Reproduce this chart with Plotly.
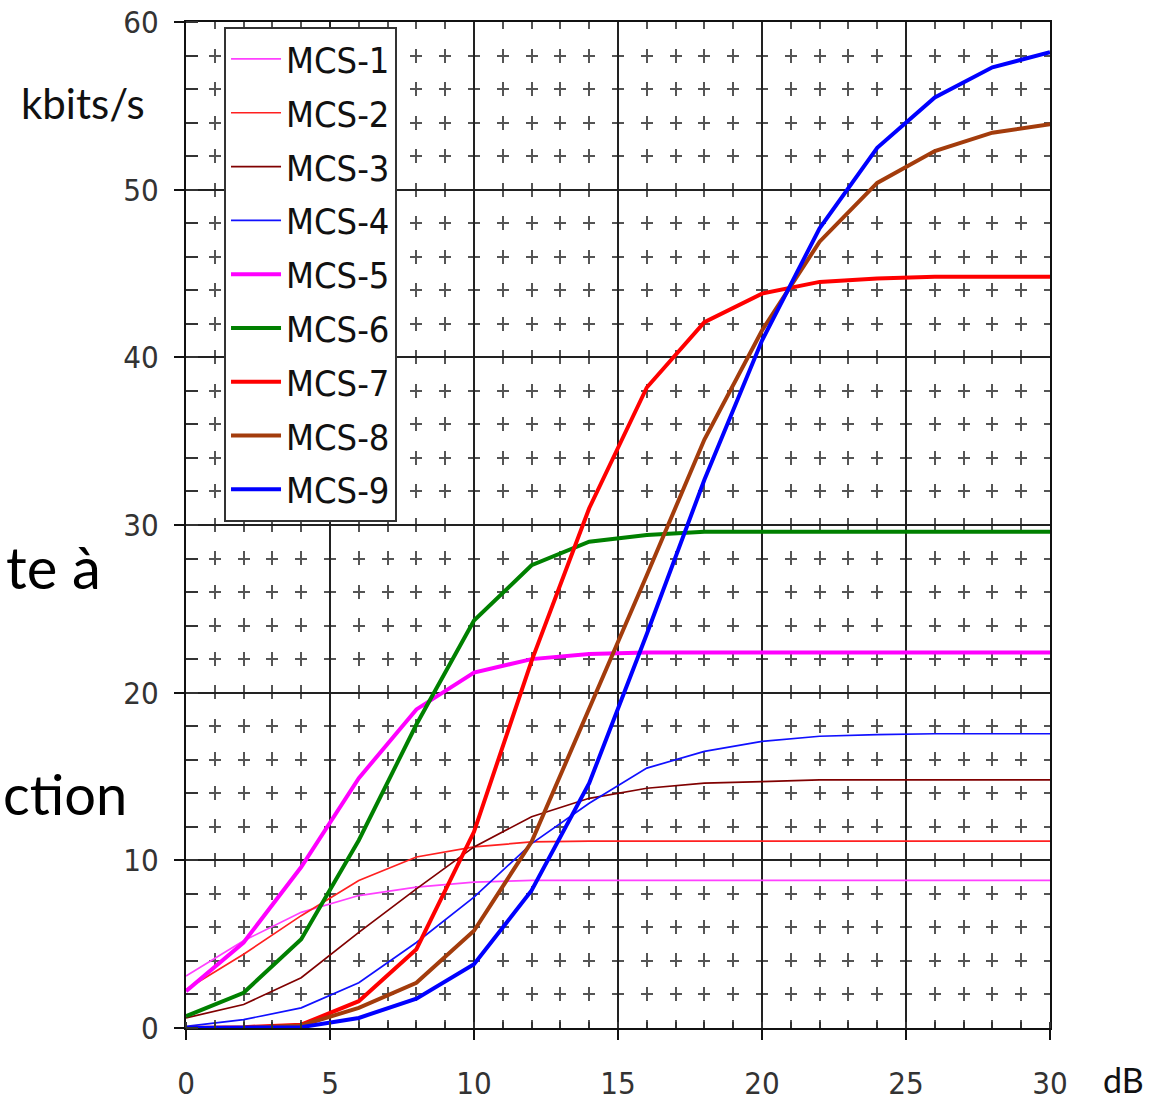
import plotly.graph_objects as go

snr_db = [0, 2, 4, 6, 8, 10, 12, 14, 16, 18, 20, 22, 24, 26, 28, 30]

mcs1 = [3.1, 5.2, 6.9, 7.9, 8.4, 8.7, 8.8, 8.8, 8.8, 8.8, 8.8, 8.8, 8.8, 8.8, 8.8, 8.8]
mcs2 = [2.3, 4.4, 6.7, 8.8, 10.2, 10.8, 11.1, 11.15, 11.15, 11.15, 11.15, 11.15, 11.15, 11.15, 11.15, 11.15]
mcs3 = [0.6, 1.4, 3.0, 5.7, 8.3, 10.8, 12.6, 13.7, 14.3, 14.6, 14.7, 14.8, 14.8, 14.8, 14.8, 14.8]
mcs4 = [0.1, 0.5, 1.2, 2.7, 5.1, 7.8, 11.0, 13.4, 15.5, 16.5, 17.1, 17.4, 17.5, 17.55, 17.55, 17.55]
mcs5 = [2.2, 5.1, 9.6, 14.9, 19.0, 21.2, 22.0, 22.3, 22.4, 22.4, 22.4, 22.4, 22.4, 22.4, 22.4, 22.4]
mcs6 = [0.7, 2.1, 5.3, 11.2, 18.1, 24.3, 27.6, 29.0, 29.4, 29.6, 29.6, 29.6, 29.6, 29.6, 29.6, 29.6]
mcs7 = [0.0, 0.05, 0.2, 1.6, 4.7, 11.7, 21.9, 31.0, 38.2, 42.1, 43.8, 44.5, 44.7, 44.8, 44.8, 44.8]
mcs8 = [0.0, 0.0, 0.15, 1.2, 2.7, 5.8, 11.1, 19.0, 27.0, 35.1, 41.6, 46.9, 50.4, 52.3, 53.4, 53.9]
mcs9 = [0.0, 0.0, 0.05, 0.6, 1.75, 3.8, 8.2, 14.6, 23.5, 32.7, 41.0, 47.7, 52.5, 55.5, 57.3, 58.2]

series_names = ["MCS-1", "MCS-2", "MCS-3", "MCS-4", "MCS-5", "MCS-6", "MCS-7", "MCS-8", "MCS-9"]
series_values = [mcs1, mcs2, mcs3, mcs4, mcs5, mcs6, mcs7, mcs8, mcs9]
series_colors = ["#ff40ff", "#ff2020", "#800000", "#1010ff", "#ff00ff", "#008000", "#ff0000", "#a33c0c", "#0000ff"]
series_widths = [1.7, 1.7, 1.7, 1.7, 4, 4, 4, 4, 4]

x_ticks = [0, 5, 10, 15, 20, 25, 30]
y_ticks = [0, 10, 20, 30, 40, 50, 60]

narrow = "Liberation Sans Narrow, DejaVu Sans Condensed, Liberation Sans, sans-serif"
tick_font = dict(family=narrow, size=31, color="#333333")

fig = go.Figure()
for name, vals, col, w in zip(series_names, series_values, series_colors, series_widths):
    fig.add_trace(go.Scatter(x=snr_db, y=vals, mode="lines", name=name, legendgroup=name,
                             line=dict(color=col, width=w)))

fig.update_layout(
    width=1162, height=1101,
    margin=dict(l=186, r=112, t=22, b=73, autoexpand=False),
    paper_bgcolor="white", plot_bgcolor="white",
    showlegend=True,
    legend=dict(x=0.044, y=0.995, xanchor="left", yanchor="top",
                bgcolor="white", bordercolor="#333333", borderwidth=2,
                font=dict(family=narrow, size=36, color="#111111"),
                itemwidth=50, tracegroupgap=4),
)

fig.update_xaxes(
    range=[0, 30], tickvals=x_ticks, ticktext=[str(v) for v in x_ticks],
    showline=True, mirror=True, linecolor="#111111", linewidth=2,
    showgrid=True, gridcolor="#222222", gridwidth=1.5,
    ticks="outside", ticklen=10, tickwidth=1.5, tickcolor="#111111",
    ticklabelstandoff=17, automargin=False,
    tickfont=tick_font, zeroline=False,
    minor=dict(dtick=1, showgrid=True, gridcolor="#555555", gridwidth=2,
               griddash="7px,19.5px,7px,0px", ticks="inside", ticklen=6, tickcolor="#333333"),
)
fig.update_yaxes(
    range=[0, 60], tickvals=y_ticks, ticktext=[str(v) for v in y_ticks],
    showline=True, mirror=True, linecolor="#111111", linewidth=2,
    showgrid=True, gridcolor="#222222", gridwidth=1.5,
    ticks="outside", ticklen=10, tickwidth=1.5, tickcolor="#111111",
    ticklabelstandoff=9, automargin=False,
    tickfont=tick_font, zeroline=False,
    minor=dict(dtick=2, showgrid=True, gridcolor="#555555", gridwidth=2,
               griddash="6px,16.8px,6px,0px", ticks="inside", ticklen=12, tickcolor="#333333"),
)

label_font = "Lato, Open Sans, sans-serif"
fig.add_annotation(text="kbits/s", xref="paper", yref="paper", x=(83 - 186) / 864, y=(1028 - 103) / 1006,
                   xanchor="center", yanchor="middle", showarrow=False,
                   font=dict(family=label_font, size=42, color="#111111"))
fig.add_annotation(text="dB", xref="paper", yref="paper", x=(1123 - 186) / 864, y=(1028 - 1079) / 1006,
                   xanchor="center", yanchor="middle", showarrow=False,
                   font=dict(family=label_font, size=34, color="#111111"))
fig.add_annotation(text="te à", xref="paper", yref="paper", x=(103 - 186) / 864, y=(1028 - 566) / 1006,
                   xanchor="right", yanchor="middle", showarrow=False,
                   font=dict(family=label_font, size=58, color="#000000"))
fig.add_annotation(text="ction", xref="paper", yref="paper", x=(129 - 186) / 864, y=(1028 - 793) / 1006,
                   xanchor="right", yanchor="middle", showarrow=False,
                   font=dict(family=label_font, size=56, color="#000000"))

fig.write_html("out.html", config={"displayModeBar": False},
               post_script="document.body.style.margin='0';document.body.style.overflow='hidden';")
